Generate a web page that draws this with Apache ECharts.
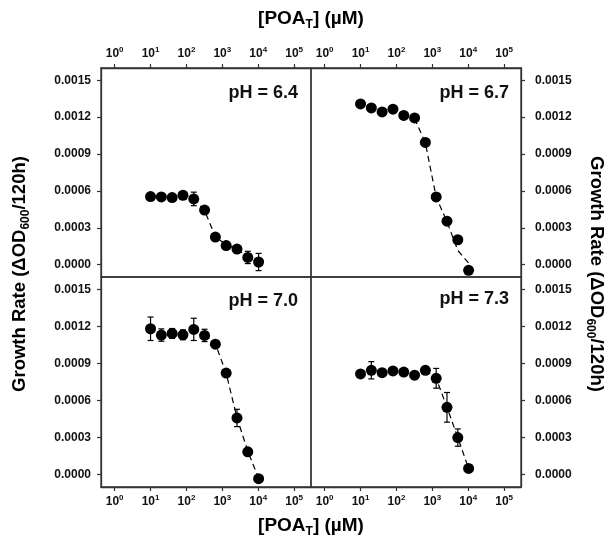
<!DOCTYPE html>
<html>
<head>
<meta charset="utf-8">
<script src="https://cdn.jsdelivr.net/npm/echarts@6/dist/echarts.min.js"></script>
<style>html,body{margin:0;padding:0;background:#fff}#c{width:612px;height:538px}</style>
</head>
<body>
<div id="c"></div>
<script>
// ---- data ----
const conc = [10, 20, 40, 80, 160, 320, 640, 1280, 2560, 5120, 10240]; // µM
const xTickExp = [0, 1, 2, 3, 4, 5];
const yTicks = [0, 0.0003, 0.0006, 0.0009, 0.0012, 0.0015];
const panelLabels = ['pH = 6.4', 'pH = 6.7', 'pH = 7.0', 'pH = 7.3'];

const rate64 = [0.000554, 0.000551, 0.000546, 0.000565, 0.000535, 0.000444, 0.000225, 0.000156, 0.000127, 0.000059, 0.000022];
const err64  = [0.00001, 0.00001, 0.00001, 0.00001, 0.000055, 0.00002, 0.00002, 0.00001, 0.00002, 0.00005, 0.00007];
const fitConc64 = [160, 320, 640, 1280, 2560, 5120, 10240];
const fit64 = [0.00054, 0.00044, 0.00023, 0.00016, 0.00013, 0.00006, 0.00002];

const rate67 = [0.001308, 0.001275, 0.001243, 0.001265, 0.001214, 0.001194, 0.000995, 0.000551, 0.000354, 0.000203, -0.000046];
const err67  = [0.00002, 0.00001, 0.00001, 0.00001, 0.00003, 0.00002, 0.00002, 0.00002, 0.00002, 0.00001, 0.00001];
const fitConc67 = [320, 640, 1280, 2560, 5120, 10240];
const fit67 = [0.00119, 0.00099, 0.00055, 0.00035, 0.000116, 0.000014];

const rate70 = [0.001181, 0.00113, 0.001143, 0.001132, 0.001176, 0.001127, 0.001056, 0.000822, 0.000459, 0.000185, -0.000033];
const err70  = [0.000095, 0.00005, 0.00004, 0.00004, 0.00009, 0.00005, 0.00002, 0.00002, 0.00007, 0.00002, 0.00001];
const fitConc70 = [320, 640, 1280, 2560, 5120, 10240];
const fit70 = [0.00113, 0.00106, 0.00082, 0.00046, 0.00019, -0.00003];

const rate73 = [0.000815, 0.000845, 0.000825, 0.000840, 0.000830, 0.000805, 0.000845, 0.000780, 0.000545, 0.000300, 0.000050];
const err73  = [0.00001, 0.00007, 0.00001, 0.00001, 0.00001, 0.00003, 0.00003, 0.00008, 0.00012, 0.00007, 0.00002];
const fitConc73 = [640, 1280, 2560, 5120, 10240];
const fit73 = [0.000845, 0.00078, 0.000545, 0.0003, 0.00005];

const panels = [
  {rate: rate64, err: err64, fitConc: fitConc64, fit: fit64},
  {rate: rate67, err: err67, fitConc: fitConc67, fit: fit67},
  {rate: rate70, err: err70, fitConc: fitConc70, fit: fit70},
  {rate: rate73, err: err73, fitConc: fitConc73, fit: fit73}
];

// ---- layout ----
const FONT = '"Liberation Sans", Arial, Helvetica, sans-serif';
const TXT = '#111';
const LINE = '#333';
const gridPos = [
  {left: 101, top: 68, width: 210, height: 209},
  {left: 311, top: 68, width: 210, height: 209},
  {left: 101, top: 277, width: 210, height: 210},
  {left: 311, top: 277, width: 210, height: 210}
];
const XMIN = -0.38, XMAX = 5.47, YMIN = -0.0001, YMAX = 0.0016;

const grids = [], xAxes = [], yAxes = [], series = [];
const supRich = {
  b: {fontFamily: FONT, fontWeight: 'bold', fontSize: 12, lineHeight: 15, color: TXT},
  s: {fontFamily: FONT, fontWeight: 'bold', fontSize: 8, lineHeight: 9, verticalAlign: 'top', color: TXT}
};

function renderErr(params, api) {
  const x = api.value(0), lo = api.value(1), hi = api.value(2);
  const p1 = api.coord([x, hi]), p2 = api.coord([x, lo]);
  const w = 3;
  const st = {stroke: '#000', lineWidth: 1.2};
  return {type: 'group', children: [
    {type: 'line', shape: {x1: p1[0], y1: p1[1], x2: p2[0], y2: p2[1]}, style: st},
    {type: 'line', shape: {x1: p1[0] - w, y1: p1[1], x2: p1[0] + w, y2: p1[1]}, style: st},
    {type: 'line', shape: {x1: p2[0] - w, y1: p2[1], x2: p2[0] + w, y2: p2[1]}, style: st}
  ]};
}

panels.forEach((p, i) => {
  const top = i < 2, left = i % 2 === 0;
  grids.push(Object.assign({show: true, borderColor: LINE, borderWidth: 1.3, backgroundColor: 'transparent'}, gridPos[i]));
  xAxes.push({
    type: 'value', gridIndex: i, min: XMIN, max: XMAX,
    position: top ? 'top' : 'bottom',
    axisLine: {show: true, onZero: false, lineStyle: {color: LINE, width: 1.3}}, splitLine: {show: false},
    axisTick: {show: true, inside: false, length: 4, customValues: xTickExp, lineStyle: {color: LINE, width: 1.2}},
    axisLabel: {show: true, customValues: xTickExp, margin: 7, formatter: v => '{b|10}{s|' + v + '}', rich: supRich}
  });
  yAxes.push({
    type: 'value', gridIndex: i, min: YMIN, max: YMAX,
    position: left ? 'left' : 'right',
    axisLine: {show: true, onZero: false, lineStyle: {color: LINE, width: 1.3}}, splitLine: {show: false},
    axisTick: {show: true, inside: false, length: 4, customValues: yTicks, lineStyle: {color: LINE, width: 1.2}},
    axisLabel: {show: true, customValues: yTicks, margin: left ? 10 : 14, formatter: v => v.toFixed(4),
      fontFamily: FONT, fontWeight: 'bold', fontSize: 12, color: TXT}
  });
  series.push({
    type: 'line', xAxisIndex: i, yAxisIndex: i, z: 2,
    data: p.fitConc.map((c, k) => [Math.log10(c), p.fit[k]]),
    symbol: 'none', silent: true, animation: false,
    lineStyle: {color: '#000', width: 1.2, type: [6, 4]}
  });
  series.push({
    type: 'custom', xAxisIndex: i, yAxisIndex: i, z: 3, animation: false,
    renderItem: renderErr, encode: {x: 0, y: [1, 2]},
    data: conc.map((c, k) => [Math.log10(c), p.rate[k] - p.err[k], p.rate[k] + p.err[k]])
  });
  series.push({
    type: 'scatter', xAxisIndex: i, yAxisIndex: i, z: 4, animation: false,
    symbol: 'circle', symbolSize: 11, itemStyle: {color: '#000', opacity: 1},
    data: conc.map((c, k) => [Math.log10(c), p.rate[k]])
  });
});

const labelPos = [[298, 93], [509, 93], [298, 301], [509, 299]];
const graphics = panelLabels.map((t, i) => ({
  type: 'text', x: labelPos[i][0], y: labelPos[i][1], z: 10,
  style: {text: t, fill: TXT, font: 'bold 18px ' + FONT, textAlign: 'right', textVerticalAlign: 'middle', align: 'right', verticalAlign: 'middle'}
}));

function titleRich(fs) {
  return {
    a: {fontFamily: FONT, fontWeight: 'bold', fontSize: fs, lineHeight: fs + 4, color: TXT},
    s: {fontFamily: FONT, fontWeight: 'bold', fontSize: Math.round(fs * 0.63), lineHeight: Math.round(fs * 0.63), verticalAlign: 'bottom', color: TXT}
  };
}
const xTitle = '{a|[POA}{s|T}{a|] (µM)}';
const yTitle = '{a|Growth Rate (ΔOD}{s|600}{a|/120h)}';
const common = {textAlign: 'center', textVerticalAlign: 'middle', align: 'center', verticalAlign: 'middle'};
graphics.push({type: 'text', x: 311, y: 19, z: 10,
  style: Object.assign({text: xTitle, rich: titleRich(19)}, common)});
graphics.push({type: 'text', x: 311, y: 526, z: 10,
  style: Object.assign({text: xTitle, rich: titleRich(19)}, common)});
graphics.push({type: 'text', x: 20, y: 274, rotation: Math.PI / 2, z: 10,
  style: Object.assign({text: yTitle, rich: titleRich(18.5)}, common)});
graphics.push({type: 'text', x: 596, y: 274, rotation: -Math.PI / 2, z: 10,
  style: Object.assign({text: yTitle, rich: titleRich(18.5)}, common)});

const chart = echarts.init(document.getElementById('c'), null, {renderer: 'canvas'});
chart.setOption({
  animation: false,
  backgroundColor: '#fff',
  grid: grids, xAxis: xAxes, yAxis: yAxes, series: series,
  graphic: graphics
});
</script>
</body>
</html>
